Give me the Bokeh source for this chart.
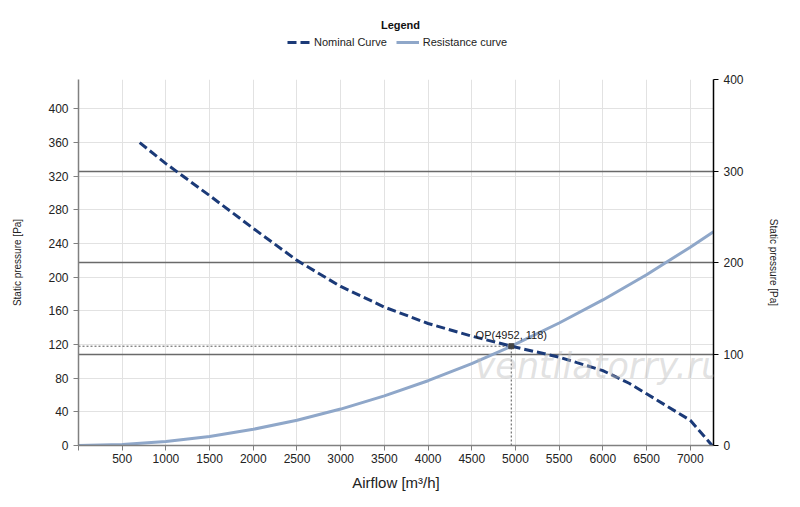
from bokeh.plotting import figure
from bokeh.layouts import column
from bokeh.models import Range1d, LinearAxis, FixedTicker, Grid, Legend, LegendItem, Label
from bokeh.embed import file_html
from bokeh.resources import INLINE

# ---- data ----
nominal_airflow = [700, 1000, 1500, 2000, 2500, 3000, 3500, 4000, 4500, 4952, 5500, 6000, 6300, 6500, 7000, 7250]
nominal_pressure = [360, 335, 297, 258, 220, 189, 164.5, 145, 130, 118, 105, 89, 74, 61.5, 30, 0]

resistance_airflow = [0, 500, 1000, 1500, 2000, 2500, 3000, 3500, 4000, 4500, 4952, 5500, 6000, 6500, 7000, 7266]
resistance_pressure = [0, 1.2, 4.8, 10.8, 19.3, 30, 43.3, 59, 77, 97.4, 118, 145.6, 173, 203, 235.7, 254]

op_airflow = 4952
op_pressure = 118

x_ticks = list(range(0, 7001, 500))
left_ticks = list(range(0, 401, 40))
right_ticks = [0, 100, 200, 300, 400]

FONT = "Liberation Sans"
NAVY = "#1b3a78"
STEEL = "#8fa7c9"

# ---------------- header with the legend ----------------
# the column aligns this header's frame with the chart's frame (78..713 px)
HFW, HH = 635, 71
h = figure(width=800, height=HH, output_backend="svg", toolbar_location=None,
           x_range=Range1d(0, HFW), y_range=Range1d(0, HH),
           x_axis_type=None, y_axis_type=None, min_border=0)
h.outline_line_color = None
h.xgrid.visible = False
h.ygrid.visible = False
# legend swatches only (kept outside the visible range of the header)
s_nom = h.line([-60, -50], [-60, -60], line_color=NAVY, line_width=3, line_dash="9 4")
s_res = h.line([-60, -50], [-60, -60], line_color=STEEL, line_width=3)
legend = Legend(items=[LegendItem(label="Nominal Curve", renderers=[s_nom]),
                       LegendItem(label="Resistance curve", renderers=[s_res])],
                orientation="horizontal", location=(209, 23),
                border_line_color=None, background_fill_alpha=0,
                label_text_font=FONT, label_text_font_size="11px", label_text_color="#222222",
                glyph_width=23, glyph_height=12, label_standoff=4, spacing=9,
                padding=0, margin=0, label_height=12)
h.add_layout(legend)
h.add_layout(Label(x=322, y=47, text="Legend", text_align="center", text_baseline="middle",
                   text_font=FONT, text_font_size="11px", text_font_style="bold", text_color="#111111"))

# ---------------- main chart ----------------
p = figure(width=800, height=436, output_backend="svg", toolbar_location=None,
           x_range=Range1d(0, 7266), y_range=Range1d(0, 435),
           min_border_left=78, min_border_right=87, min_border_top=8, min_border_bottom=62)
p.outline_line_color = None
p.background_fill_color = "white"

# x axis
p.xaxis.ticker = FixedTicker(ticks=x_ticks)
p.xaxis.major_label_overrides = {0: ""}
p.xaxis.axis_label = "Airflow [m³/h]"
p.xaxis.major_label_standoff = 3

# left axis
p.yaxis.ticker = FixedTicker(ticks=left_ticks)
p.yaxis.axis_label = "Static pressure [Pa]"

p.extra_y_ranges = {"right": Range1d(0, 400)}
ax_r = LinearAxis(y_range_name="right", ticker=FixedTicker(ticks=right_ticks),
                  axis_label="Static pressure [Pa]")
p.add_layout(ax_r, "right")

for ax in [p.xaxis[0], p.yaxis[0], ax_r]:
    ax.major_tick_in = 0
    ax.major_tick_out = 5
    ax.minor_tick_line_color = None
    ax.major_label_text_font = FONT
    ax.major_label_text_font_size = "12px"
    ax.major_label_text_color = "#222222"
    ax.axis_label_text_font = FONT
    ax.axis_label_text_font_style = "normal"
    ax.axis_label_text_color = "#222222"
    ax.axis_line_width = 1.5
    ax.major_tick_line_width = 1
for ax in [p.xaxis[0], p.yaxis[0]]:
    ax.axis_line_color = "#808080"
    ax.major_tick_line_color = "#808080"
ax_r.axis_line_color = "black"
ax_r.major_tick_line_color = "black"
p.yaxis[0].major_label_standoff = 5
ax_r.major_label_standoff = 5
p.xaxis.axis_label_text_font_size = "15px"
p.xaxis.axis_label_standoff = 8
p.yaxis.axis_label_text_font_size = "10px"
p.yaxis.axis_label_standoff = 22
ax_r.axis_label_text_font_size = "10px"
ax_r.axis_label_standoff = 21

# grids
p.xgrid.ticker = FixedTicker(ticks=x_ticks)
p.xgrid.grid_line_color = "#e2e2e2"
p.ygrid.ticker = FixedTicker(ticks=left_ticks)
p.ygrid.grid_line_color = "#e2e2e2"
g_r = Grid(dimension=1, axis=ax_r, y_range_name="right", grid_line_color="#6a6a6a", grid_line_width=1.5)
p.add_layout(g_r)

# operating point guides
p.line([0, op_airflow], [op_pressure, op_pressure], line_color="#555555", line_width=1, line_dash="2 2")
p.line([op_airflow, op_airflow], [0, op_pressure], line_color="#555555", line_width=1, line_dash="2 2")

r_res = p.line(resistance_airflow, resistance_pressure, line_color=STEEL, line_width=3)
r_nom = p.line(nominal_airflow, nominal_pressure, line_color=NAVY, line_width=3, line_dash="9 4")
p.scatter([op_airflow], [op_pressure], marker="square", size=5, color="#444444")

p.add_layout(Label(x=op_airflow, y=op_pressure, text=f"OP({op_airflow}, {op_pressure})",
                   text_align="center", text_baseline="bottom", y_offset=5,
                   text_font=FONT, text_font_size="11px", text_color="#222222"))

# watermark
p.add_layout(Label(x=4533, y=95, text="ventilatorry.ru", text_align="left", text_baseline="alphabetic",
                   text_font="DejaVu Sans", text_font_size="35px", text_font_style="italic",
                   text_color="#bdbdbd", text_alpha=0.45))

layout = column(h, p, spacing=0)
open("out.html", "w").write(file_html(layout, INLINE))
